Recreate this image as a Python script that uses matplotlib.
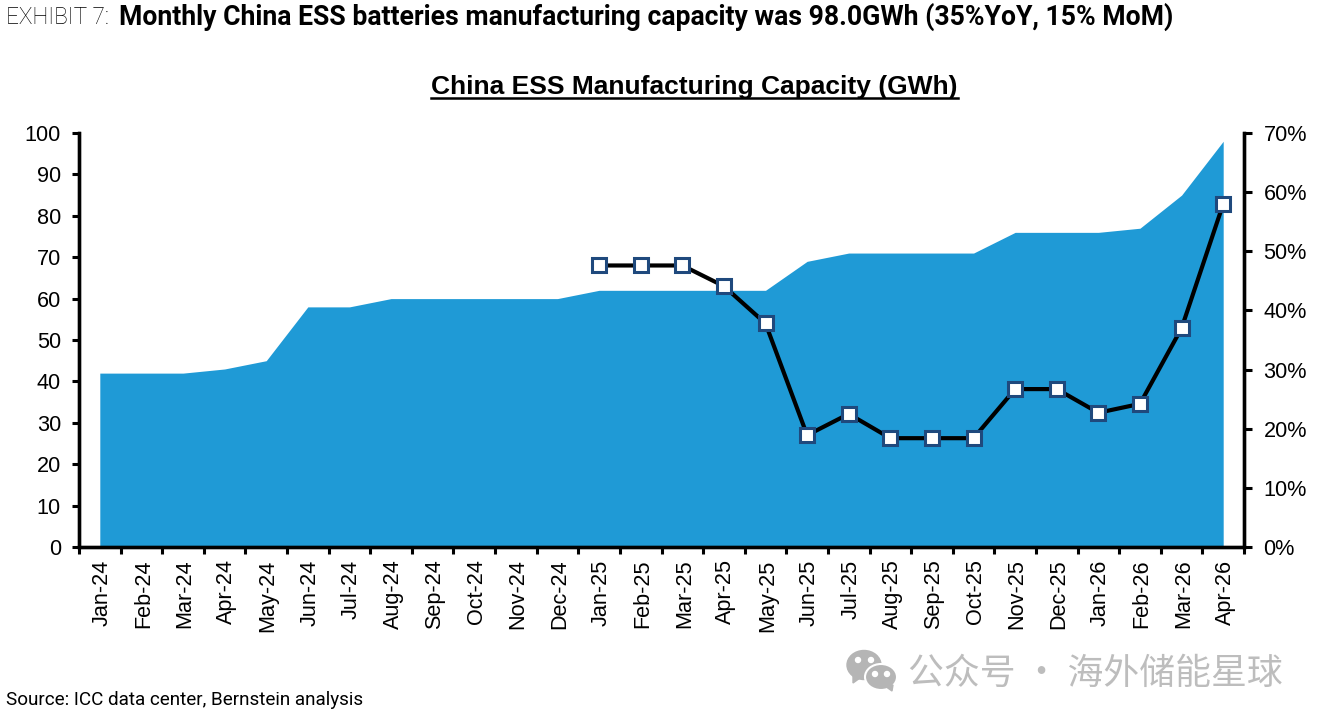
import matplotlib
matplotlib.use('Agg')
import matplotlib.pyplot as plt
from matplotlib.lines import Line2D
from matplotlib.patches import Ellipse, Polygon
from matplotlib.transforms import ScaledTranslation
import numpy as np

plt.rcParams['font.family'] = ['Liberation Sans', 'DejaVu Sans']

months = ['Jan-24', 'Feb-24', 'Mar-24', 'Apr-24', 'May-24', 'Jun-24', 'Jul-24',
          'Aug-24', 'Sep-24', 'Oct-24', 'Nov-24', 'Dec-24', 'Jan-25', 'Feb-25',
          'Mar-25', 'Apr-25', 'May-25', 'Jun-25', 'Jul-25', 'Aug-25', 'Sep-25',
          'Oct-25', 'Nov-25', 'Dec-25', 'Jan-26', 'Feb-26', 'Mar-26', 'Apr-26']
capacity = [42, 42, 42, 43, 45, 58, 58, 60, 60, 60, 60, 60, 62, 62,
            62, 62, 62, 69, 71, 71, 71, 71, 76, 76, 76, 77, 85, 98]
# yoy only starts in Jan-25
yoy = [None] * 12 + [47.6, 47.6, 47.6, 44.1, 37.8, 18.9, 22.5, 18.4, 18.4,
                     18.4, 26.7, 26.7, 22.7, 24.2, 37.0, 58.0]
left_ticks = [0, 10, 20, 30, 40, 50, 60, 70, 80, 90, 100]
right_ticks = [0, 10, 20, 30, 40, 50, 60, 70]

W, H = 1325, 725
fig = plt.figure(figsize=(W / 100, H / 100), dpi=100)
ax = fig.add_axes([79 / W, 1 - 547 / H, 1165 / W, 414 / H])

x = np.arange(len(months))
ax.fill_between(x, capacity, 0, color='#1F9AD6', linewidth=0)
ax.set_xlim(-0.5, len(months) - 0.5)
ax.set_ylim(0, 100)
ax.set_yticks(left_ticks)
ax.set_xticks(x)
ax.set_xticklabels(months, rotation=90, fontsize=15.6)
ax.set_xticks(np.arange(len(months) + 1) - 0.5, minor=True)
ax.tick_params(axis='x', which='major', length=0, pad=9)
ax.tick_params(axis='x', which='minor', length=5, width=2.2, direction='out')
ax.tick_params(axis='y', length=5, width=2.2, labelsize=15.6, pad=8)
# nudge month labels 2px right
nudge = ScaledTranslation(2 / 100, 0, fig.dpi_scale_trans)
for lab in ax.get_xticklabels():
    lab.set_transform(lab.get_transform() + nudge)

ax2 = ax.twinx()
ax2.set_ylim(0, 70)
ax2.set_yticks(right_ticks)
ax2.set_yticklabels([f'{t}%' for t in right_ticks])
ax2.tick_params(axis='y', length=6, width=2.2, labelsize=15.6, pad=8)
yoy_x = [i for i, v in enumerate(yoy) if v is not None]
yoy_y = [v for v in yoy if v is not None]
ax2.plot(yoy_x, yoy_y, color='black', linewidth=3, marker='s', markersize=10,
         markerfacecolor='white', markeredgecolor='#1F497D', markeredgewidth=2.2,
         clip_on=False, zorder=5)

for a in (ax, ax2):
    a.spines['top'].set_visible(False)
    for side in ('left', 'right', 'bottom'):
        a.spines[side].set_linewidth(2.4)

# chart title with a hand drawn underline
title = fig.text(694.5 / W, 1 - 87 / H, 'China ESS Manufacturing Capacity (GWh)',
                 ha='center', va='center', fontsize=19, fontweight='bold')
fig.canvas.draw()
bb = title.get_window_extent()
fig.add_artist(Line2D([bb.x0 / W, bb.x1 / W], [1 - 98 / H, 1 - 98 / H],
                      color='black', linewidth=1.8))

# exhibit header, two weights
fig.text(6 / W, 1 - 17 / H, 'EXHIBIT 7:', ha='left', va='center', color='black',
         fontsize=16.3, family=['Roboto', 'DejaVu Sans'], fontweight='light')
fig.text(119 / W, 1 - 17 / H,
         'Monthly China ESS batteries manufacturing capacity was 98.0GWh (35%YoY, 15% MoM)',
         ha='left', va='center', fontsize=19.2, family=['Roboto', 'DejaVu Sans'],
         fontweight='bold')

fig.text(6 / W, 1 - 700 / H, 'Source: ICC data center, Bernstein analysis',
         ha='left', va='center', fontsize=13.6, family=['Roboto', 'DejaVu Sans'])

# watermark
grey = '#B5B5B5'
fig.text(908 / W, 1 - 674 / H, '公众号 · 海外储能星球', ha='left', va='center',
         fontsize=25.8, color='#BDBDBD', family=['Noto Sans CJK SC', 'DejaVu Sans'])
fig.add_artist(Ellipse((864 / W, 1 - 665 / H), 34 / W, 29 / H, color=grey,
                       transform=fig.transFigure))
fig.add_artist(Polygon([(853 / W, 1 - 674 / H), (860 / W, 1 - 678 / H), (853 / W, 1 - 683 / H)],
                       color=grey, transform=fig.transFigure))
fig.add_artist(Ellipse((881 / W, 1 - 677 / H), 32 / W, 26 / H, color=grey, ec='white', lw=1.5,
                       transform=fig.transFigure))
fig.add_artist(Polygon([(885 / W, 1 - 686 / H), (893 / W, 1 - 685 / H), (892 / W, 1 - 691 / H)],
                       color=grey, transform=fig.transFigure))
for ex, ey, c in [(858, 660, 'white'), (871, 660, 'white'), (875, 674, 'white'), (887, 674, 'white')]:
    fig.add_artist(Ellipse((ex / W, 1 - ey / H), 5 / W, 5 / H, color=c, transform=fig.transFigure))

fig.savefig('out.png', dpi=100)
